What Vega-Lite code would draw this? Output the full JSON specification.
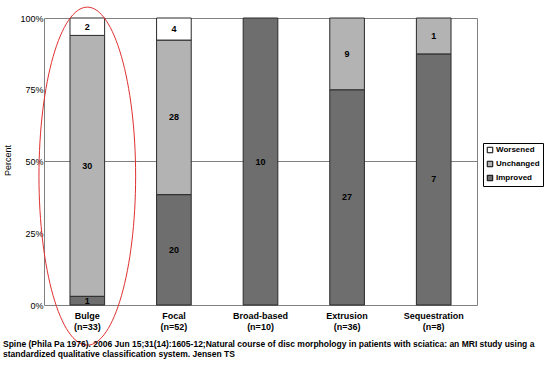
{
  "$schema": "https://vega.github.io/schema/vega-lite/v6.json",
  "width": 433,
  "height": 287,
  "autosize": {"type": "none"},
  "padding": {"left": 44, "top": 18, "right": 74, "bottom": 61},
  "background": "#ffffff",
  "config": {
    "font": "Liberation Sans",
    "view": {"stroke": "#808080", "strokeWidth": 1},
    "axis": {"labelColor": "#000000", "titleColor": "#000000"}
  },
  "title": {
    "text": [
      "Spine (Phila Pa 1976). 2006 Jun 15;31(14):1605-12;Natural course of disc morphology in patients with sciatica: an MRI study using a",
      "standardized qualitative classification system. Jensen TS"
    ],
    "orient": "bottom",
    "anchor": "start",
    "frame": "bounds",
    "font": "Liberation Sans",
    "fontSize": 8.5,
    "fontWeight": "bold",
    "lineHeight": 10,
    "offset": -7,
    "color": "#000000"
  },
  "datasets": {
    "counts": [
      {"category": "Bulge|(n=33)", "outcome": "Improved", "ord": 1, "count": 1},
      {"category": "Bulge|(n=33)", "outcome": "Unchanged", "ord": 2, "count": 30},
      {"category": "Bulge|(n=33)", "outcome": "Worsened", "ord": 3, "count": 2},
      {"category": "Focal|(n=52)", "outcome": "Improved", "ord": 1, "count": 20},
      {"category": "Focal|(n=52)", "outcome": "Unchanged", "ord": 2, "count": 28},
      {"category": "Focal|(n=52)", "outcome": "Worsened", "ord": 3, "count": 4},
      {"category": "Broad-based|(n=10)", "outcome": "Improved", "ord": 1, "count": 10},
      {"category": "Extrusion|(n=36)", "outcome": "Improved", "ord": 1, "count": 27},
      {"category": "Extrusion|(n=36)", "outcome": "Unchanged", "ord": 2, "count": 9},
      {"category": "Sequestration|(n=8)", "outcome": "Improved", "ord": 1, "count": 7},
      {"category": "Sequestration|(n=8)", "outcome": "Unchanged", "ord": 2, "count": 1}
    ],
    "ellipse": [{"category": "Bulge|(n=33)", "y": 0.449}]
  },
  "layer": [
    {
      "data": {"values": [{"y": 0.5}]},
      "mark": {"type": "rule", "color": "#808080", "strokeWidth": 1},
      "encoding": {
        "y": {"field": "y", "type": "quantitative", "title": "Percent", "scale": {"domain": [0, 1]}}
      }
    },
    {
      "data": {"name": "counts"},
      "transform": [
        {"stack": "count", "groupby": ["category"], "sort": [{"field": "ord", "order": "ascending"}], "offset": "normalize", "as": ["y0", "y1"]},
        {"calculate": "(datum.y0 + datum.y1) / 2", "as": "mid"}
      ],
      "layer": [
        {
          "mark": {"type": "bar", "stroke": "#2a2a2a", "strokeWidth": 1},
          "encoding": {
            "x": {
              "field": "category",
              "type": "nominal",
              "title": null,
              "scale": {
                "domain": ["Bulge|(n=33)", "Focal|(n=52)", "Broad-based|(n=10)", "Extrusion|(n=36)", "Sequestration|(n=8)"],
                "paddingInner": 0.6,
                "paddingOuter": 0.3
              },
              "axis": {
                "title": null,
                "labelExpr": "split(datum.label, '|')",
                "labelAngle": 0,
                "labelFontSize": 9,
                "labelFontWeight": "bold",
                "labelPadding": 6,
                "labelLineHeight": 11,
                "ticks": false,
                "domain": false
              }
            },
            "y": {
              "field": "y0",
              "type": "quantitative",
              "title": "Percent",
              "scale": {"domain": [0, 1]},
              "axis": {
                "title": "Percent",
                "titleFontSize": 9,
                "titleFontWeight": "normal",
                "titleX": -32,
                "titleY": 142,
                "values": [0, 0.25, 0.5, 0.75, 1],
                "format": ".0%",
                "labelFontSize": 9,
                "labelPadding": 1,
                "ticks": false,
                "domain": false,
                "grid": false
              }
            },
            "y2": {"field": "y1"},
            "color": {
              "field": "outcome",
              "type": "nominal",
              "scale": {
                "domain": ["Worsened", "Unchanged", "Improved"],
                "range": ["#ffffff", "#b3b3b3", "#6e6e6e"]
              },
              "legend": {
                "title": null,
                "orient": "none",
                "legendX": 439,
                "legendY": 125,
                "symbolType": "square",
                "symbolSize": 30,
                "symbolStrokeColor": "#000000",
                "symbolStrokeWidth": 1,
                "labelFontSize": 8,
                "labelFontWeight": "bold",
                "labelColor": "#000000",
                "labelOffset": 2,
                "rowPadding": 4,
                "strokeColor": "#000000",
                "padding": 3
              }
            }
          }
        },
        {
          "mark": {"type": "text", "fontSize": 9, "fontWeight": "bold", "color": "#000000", "baseline": "middle"},
          "encoding": {
            "x": {"field": "category", "type": "nominal", "title": null},
            "y": {"field": "mid", "type": "quantitative", "title": "Percent"},
            "text": {"field": "count", "type": "quantitative"}
          }
        }
      ]
    },
    {
      "data": {"name": "ellipse"},
      "mark": {
        "type": "point",
        "shape": "M 0 -1 A 0.286 1 0 0 1 0 1 A 0.286 1 0 0 1 0 -1 Z",
        "size": 114244,
        "filled": false,
        "stroke": "#e03030",
        "strokeWidth": 1,
        "opacity": 1
      },
      "encoding": {
        "x": {"field": "category", "type": "nominal", "title": null},
        "y": {"field": "y", "type": "quantitative", "title": "Percent"}
      }
    }
  ]
}
